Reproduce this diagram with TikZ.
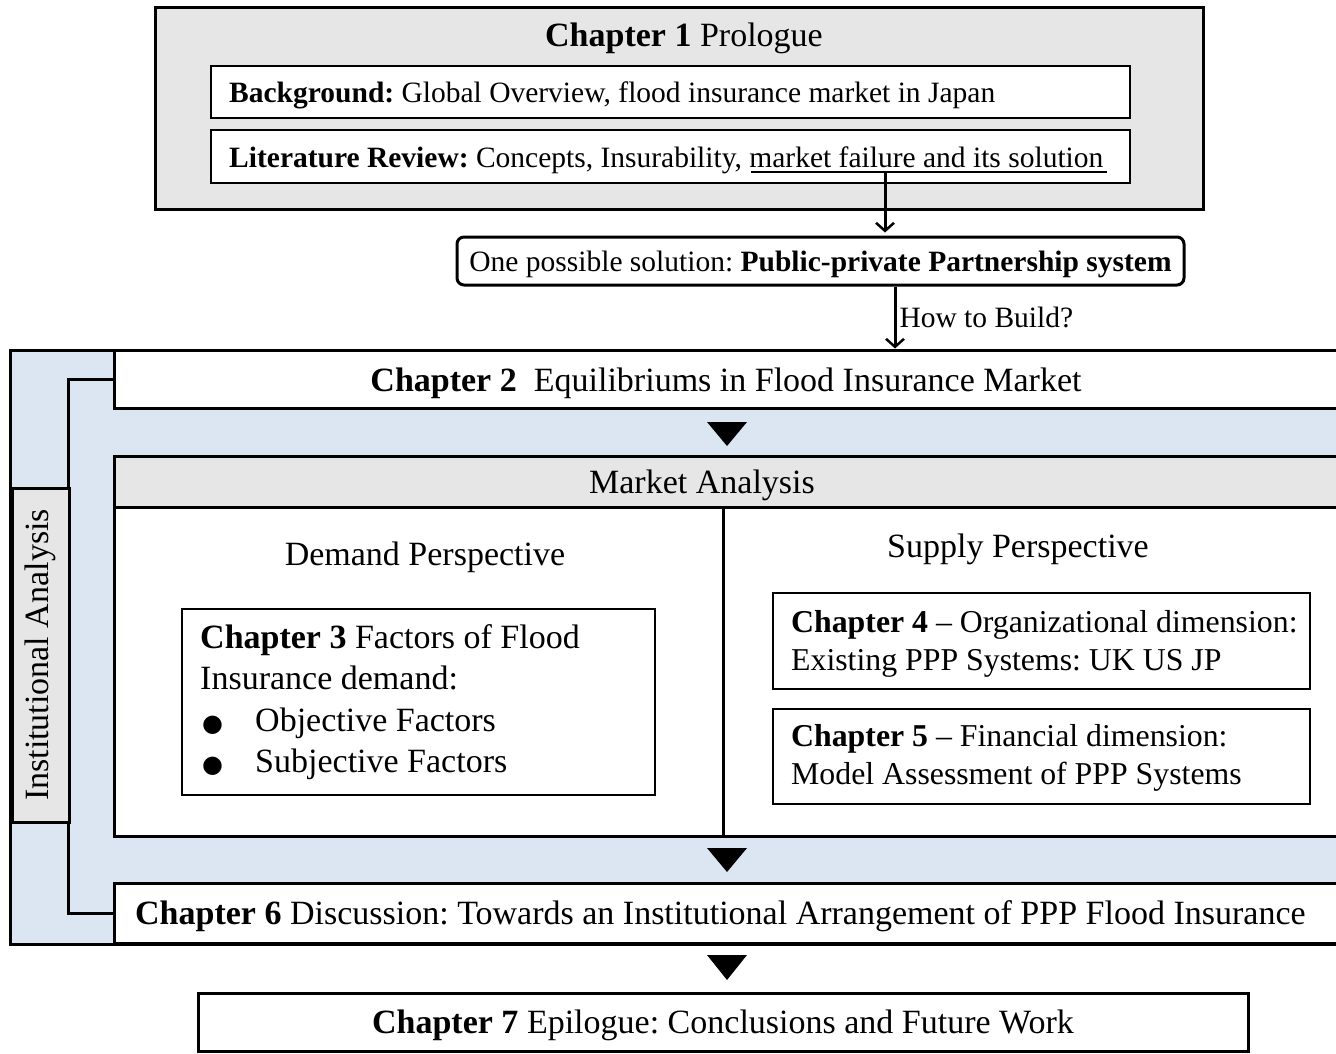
\documentclass[tikz,border=0pt]{standalone}
\usepackage{fontspec}
\setmainfont{Liberation Serif}
\newfontfamily\bulletfont{DejaVu Sans}
\usetikzlibrary{arrows.meta}
\frenchspacing
\definecolor{boxgray}{HTML}{E6E6E6}
\definecolor{bandblue}{HTML}{DCE6F2}
\newcommand{\nsp}{\frenchspacing\spaceskip=0pt\xspaceskip=0pt\relax}
\newcommand{\fsA}{\fontsize{34}{41.3}\selectfont\frenchspacing}
\newcommand{\fsB}{\fontsize{29.5}{35}\selectfont\frenchspacing}
\newcommand{\fsC}{\fontsize{31.8}{38}\selectfont\frenchspacing}
\newcommand{\bul}{\makebox[55pt][l]{\hspace{2pt}\bulletfont\fontsize{24}{24}\selectfont ●}}
\begin{document}
\begin{tikzpicture}[x=1pt,y=-1pt,
  thickbox/.style={draw,line width=3pt,inner sep=0pt},
  thinbox/.style={draw,line width=1.3pt,inner sep=0pt,fill=white},
  txt/.style={inner sep=0pt,text depth=0pt},
  lefttxt/.style={anchor=west,inner sep=0pt,align=left},
  arr/.style={line width=3pt,-{Straight Barb[length=8pt,width=18pt,line width=2.5pt]}},
  sep/.style={fill=black}]
\useasboundingbox (0,0) rectangle (1336,1054);
\clip (0,0) rectangle (1336,1054);

% Chapter 1 block
\node[thickbox,fill=boxgray,minimum width=1048,minimum height=201] (ch1) at (679,108.5) {};
\node[txt,font=\fsA] (ch1t) at (684,35) {\textbf{Chapter 1} Prologue};
\node[thinbox,minimum width=919,minimum height=52] (bg) at (670.5,92) {};
\node[lefttxt,font=\fsB,text depth=0pt] (bgt) at (229,92) {\nsp\textbf{Background:} Global Overview, flood insurance market in Japan};
\node[thinbox,minimum width=919,minimum height=53] (lit) at (670.5,156.5) {};
\node[lefttxt,font=\fsB,text depth=0pt] (litt) at (229,157) {\nsp\textbf{Literature Review:} Concepts, Insurability, market failure and its solution};
\draw[line width=1.4pt] (751,172) -- (1107,172);
\coordinate (ul) at (885,172);

% Solution
\node[draw,line width=3pt,rounded corners=7pt,inner sep=0pt,minimum width=727,minimum height=48,fill=white,font=\fsB,text depth=0pt] (sol) at (820.5,261)
  {One possible solution: \textbf{Public-private Partnership system}};
\draw[arr,shorten >=3pt] (ul) -- (ul |- sol.north);

% Institutional band
\node[thickbox,fill=bandblue,minimum width=1340,minimum height=594] (band) at (680,647) {};
\node[thickbox,fill=white,minimum width=1236,minimum height=58] (ch2) at (732,379) {};
\node[txt,font=\fsA] (ch2t) at (726,380) {\textbf{Chapter 2}\ \ Equilibriums in Flood Insurance Market};
\draw[arr] ([xshift=74.5pt]sol.south) -- ([xshift=74.5pt]sol.south |- ch2.north)
  node[midway,right,inner sep=3pt,font=\fsB,text depth=0pt] (how) {How to Build?};

% Market analysis
\node[thickbox,fill=white,minimum width=1236,minimum height=380] (mkt) at (732,646) {};
\node[thickbox,fill=boxgray,minimum width=1236,minimum height=51] (mkth) at (732,481.5) {};
\node[txt,font=\fsA] (mktt) at (702,482) {Market Analysis};
\draw[line width=3pt] (723,507) -- (723,836);
\node[txt,font=\fsA] (dem) at (425,554) {Demand Perspective};
\node[txt,font=\fsA] (sup) at (1018,546) {Supply Perspective};

\node[thinbox,minimum width=473,minimum height=186] (ch3) at (418.5,702) {};
\node[lefttxt,font=\fsA] (ch3t) at (200,702)
  {\nsp\textbf{Chapter 3} Factors of Flood\\Insurance demand:\\\bul Objective Factors\\\bul Subjective Factors};
\node[thinbox,minimum width=537,minimum height=96] (ch4) at (1041.5,641) {};
\node[lefttxt,font=\fsC] (ch4t) at (791,644)
  {\nsp\textbf{Chapter 4} -- Organizational dimension:\\Existing PPP Systems: UK US JP};
\node[thinbox,minimum width=537,minimum height=95] (ch5) at (1041.5,756.5) {};
\node[lefttxt,font=\fsC] (ch5t) at (791,758)
  {\nsp\textbf{Chapter 5} -- Financial dimension:\\Model Assessment of PPP Systems};

\node[thickbox,fill=white,minimum width=1236,minimum height=60] (ch6) at (732,913) {};
\node[lefttxt,font=\fsA,text depth=0pt] (ch6t) at (135,913)
  {\textbf{Chapter 6} Discussion: Towards an Institutional Arrangement of PPP Flood Insurance};

% bracket and side label
\draw[line width=3pt] (ch2.west) -- ++(-44,0) |- (ch6.west);
\node[thickbox,fill=boxgray,rotate=90,minimum width=334,minimum height=57,font=\fsA] (inst) at (40.5,655)
  {Institutional Analysis};

% separators
\fill[sep] (707,422) -- (747,422) -- (727,446) -- cycle;
\fill[sep] (707,848) -- (747,848) -- (727,872) -- cycle;
\fill[sep] (707,955) -- (747,955) -- (727,980) -- cycle;

% Chapter 7
\node[thickbox,fill=white,minimum width=1050,minimum height=58,font=\fsA,text depth=0pt] (ch7) at (723,1022)
  {\textbf{Chapter 7} Epilogue: Conclusions and Future Work};
\end{tikzpicture}
\end{document}
